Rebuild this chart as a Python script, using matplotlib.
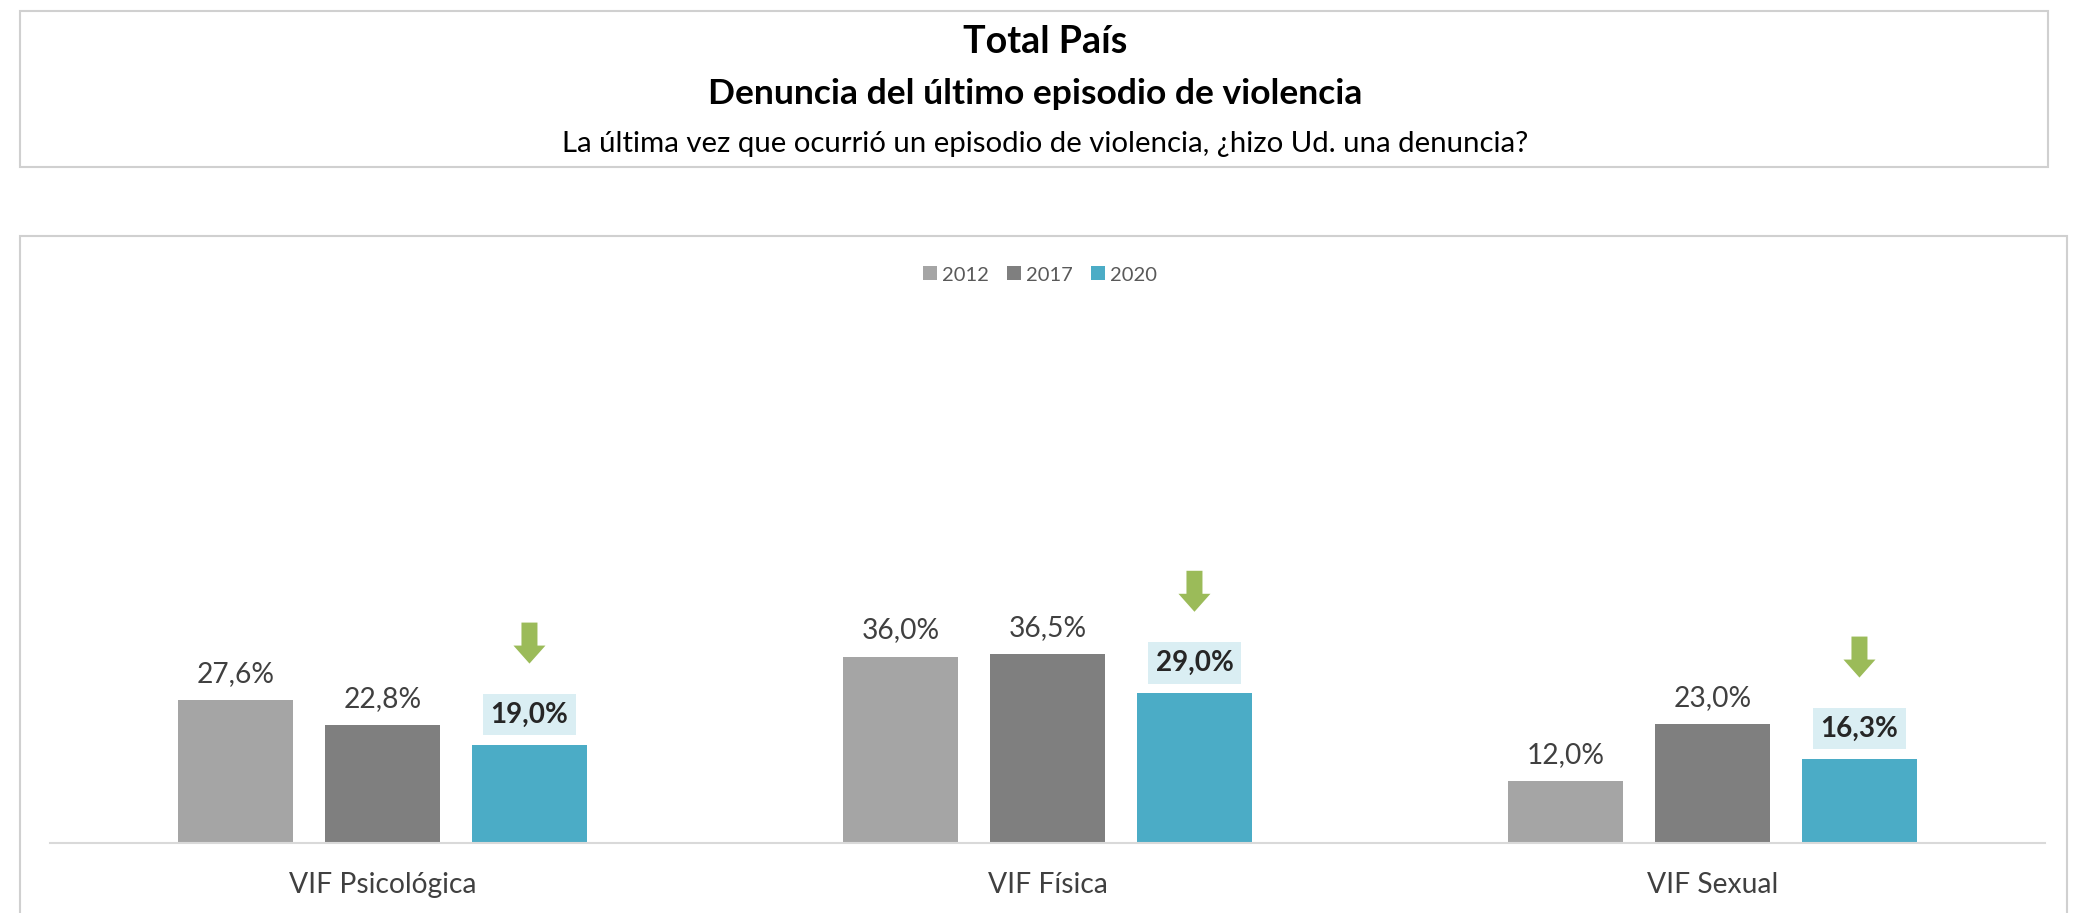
import numpy as np
import matplotlib
matplotlib.use('Agg')
import matplotlib.pyplot as plt
from matplotlib.patches import Rectangle, Polygon
from matplotlib.font_manager import FontProperties
import matplotlib.transforms as mtransforms

FUENTE = ['Lato', 'DejaVu Sans']
plt.rcParams['font.family'] = FUENTE

# Datos
categorias = ['VIF Psicológica', 'VIF Física', 'VIF Sexual']
anios = ['2012', '2017', '2020']
valores_2012 = [27.6, 36.0, 12.0]
valores_2017 = [22.8, 36.5, 23.0]
valores_2020 = [19.0, 29.0, 16.3]
colores = ['#A5A5A5', '#7F7F7F', '#4BACC6']

W, H = 2075, 913
fig = plt.figure(figsize=(W / 100, H / 100), dpi=100)
renderer = fig.canvas.get_renderer()


def tam(texto, ancho_px, peso='normal'):
    # tamaño de letra para que el texto ocupe ancho_px pixeles (como en el original)
    fp = FontProperties(family=FUENTE, weight=peso, size=10)
    w, _, _ = renderer.get_text_width_height_descent(texto, fp, ismath=False)
    return 10 * ancho_px / w


def caja(x0, y0, x1, y1):
    fig.patches.append(Rectangle((x0 / W, 1 - y1 / H), (x1 - x0) / W, (y1 - y0) / H,
                                 transform=fig.transFigure, fill=False,
                                 edgecolor='#D0D0D0', linewidth=1.5))


caja(20, 11, 2048, 167)
caja(20, 236, 2067, 935)

titulo = 'Total País'
subtitulo = 'Denuncia del último episodio de violencia'
pregunta = 'La última vez que ocurrió un episodio de violencia, ¿hizo Ud. una denuncia?'
fig.text(1045 / W, 1 - 42 / H, titulo, ha='center', va='center',
         fontsize=tam(titulo, 164, 'bold'), fontweight='bold', color='black')
fig.text(1035 / W, 1 - 94 / H, subtitulo, ha='center', va='center',
         fontsize=tam(subtitulo, 655, 'bold'), fontweight='bold', color='black')
fig.text(1045 / W, 1 - 144 / H, pregunta, ha='center', va='center',
         fontsize=tam(pregunta, 966), color='black')

# Ejes
ax_left, ax_right = 50, 2045
ax_bottom, ax_top = 843, 325
ax = fig.add_axes([ax_left / W, 1 - ax_bottom / H, (ax_right - ax_left) / W,
                   (ax_bottom - ax_top) / H])
ax.set_xlim(-0.5, 2.5)
ax.set_ylim(0, 100)

fs_valor = tam('27,6%', 78)
fs_valor_b = tam('19,0%', 78, 'bold')
px2pt = 72 / 100

x = np.arange(len(categorias))
ancho = 0.174
desp = 0.221
series = [valores_2012, valores_2017, valores_2020]
for i, (vals, anio, col) in enumerate(zip(series, anios, colores)):
    pos = x + (i - 1) * desp
    ax.bar(pos, vals, width=ancho, color=col, label=anio, zorder=2)
    for p, v in zip(pos, vals):
        txt = f'{v:.1f}%'.replace('.', ',')
        if anio == '2020':
            ax.annotate(txt, xy=(p, v), xytext=(0, 30 * px2pt), textcoords='offset points',
                        ha='center', va='center', fontsize=fs_valor_b, fontweight='bold',
                        color='#262626',
                        bbox=dict(boxstyle='square,pad=0.28', facecolor='#DAEEF3',
                                  edgecolor='none'))
        else:
            ax.annotate(txt, xy=(p, v), xytext=(0, 18 * px2pt), textcoords='offset points',
                        ha='center', va='baseline', fontsize=fs_valor, color='#404040')

# Flechas verdes sobre las barras 2020 (vertices en pixeles, relativos a la cima de la barra)
flecha = [(-8, 122), (8, 122), (8, 99), (16, 99), (0, 81), (-16, 99), (-8, 99)]
for p, v in zip(x + desp, valores_2020):
    tr = mtransforms.IdentityTransform() + mtransforms.ScaledTranslation(p, v, ax.transData)
    ax.add_patch(Polygon(flecha, closed=True, transform=tr, facecolor='#9BBB59',
                         edgecolor='none', clip_on=False))

for s in ['top', 'right', 'left']:
    ax.spines[s].set_visible(False)
ax.spines['bottom'].set_color('#D9D9D9')
ax.spines['bottom'].set_linewidth(1.5)
ax.set_yticks([])
ax.set_xticks(x)
ax.set_xticklabels(categorias, fontsize=tam('VIF Psicológica', 187), color='#404040')
ax.tick_params(axis='x', length=0, pad=21)

fs_leg = tam('2012', 47)
em_px = fs_leg * 100 / 72
ax.legend(loc='center', bbox_to_anchor=(1040 / W, 1 - 275 / H),
          bbox_transform=fig.transFigure, ncol=3, frameon=False, fontsize=fs_leg,
          handlelength=14 / em_px, handleheight=14 / em_px, handletextpad=5 / em_px,
          columnspacing=18 / em_px, labelcolor='#595959')

fig.savefig('out.png', dpi=100, facecolor='white')
